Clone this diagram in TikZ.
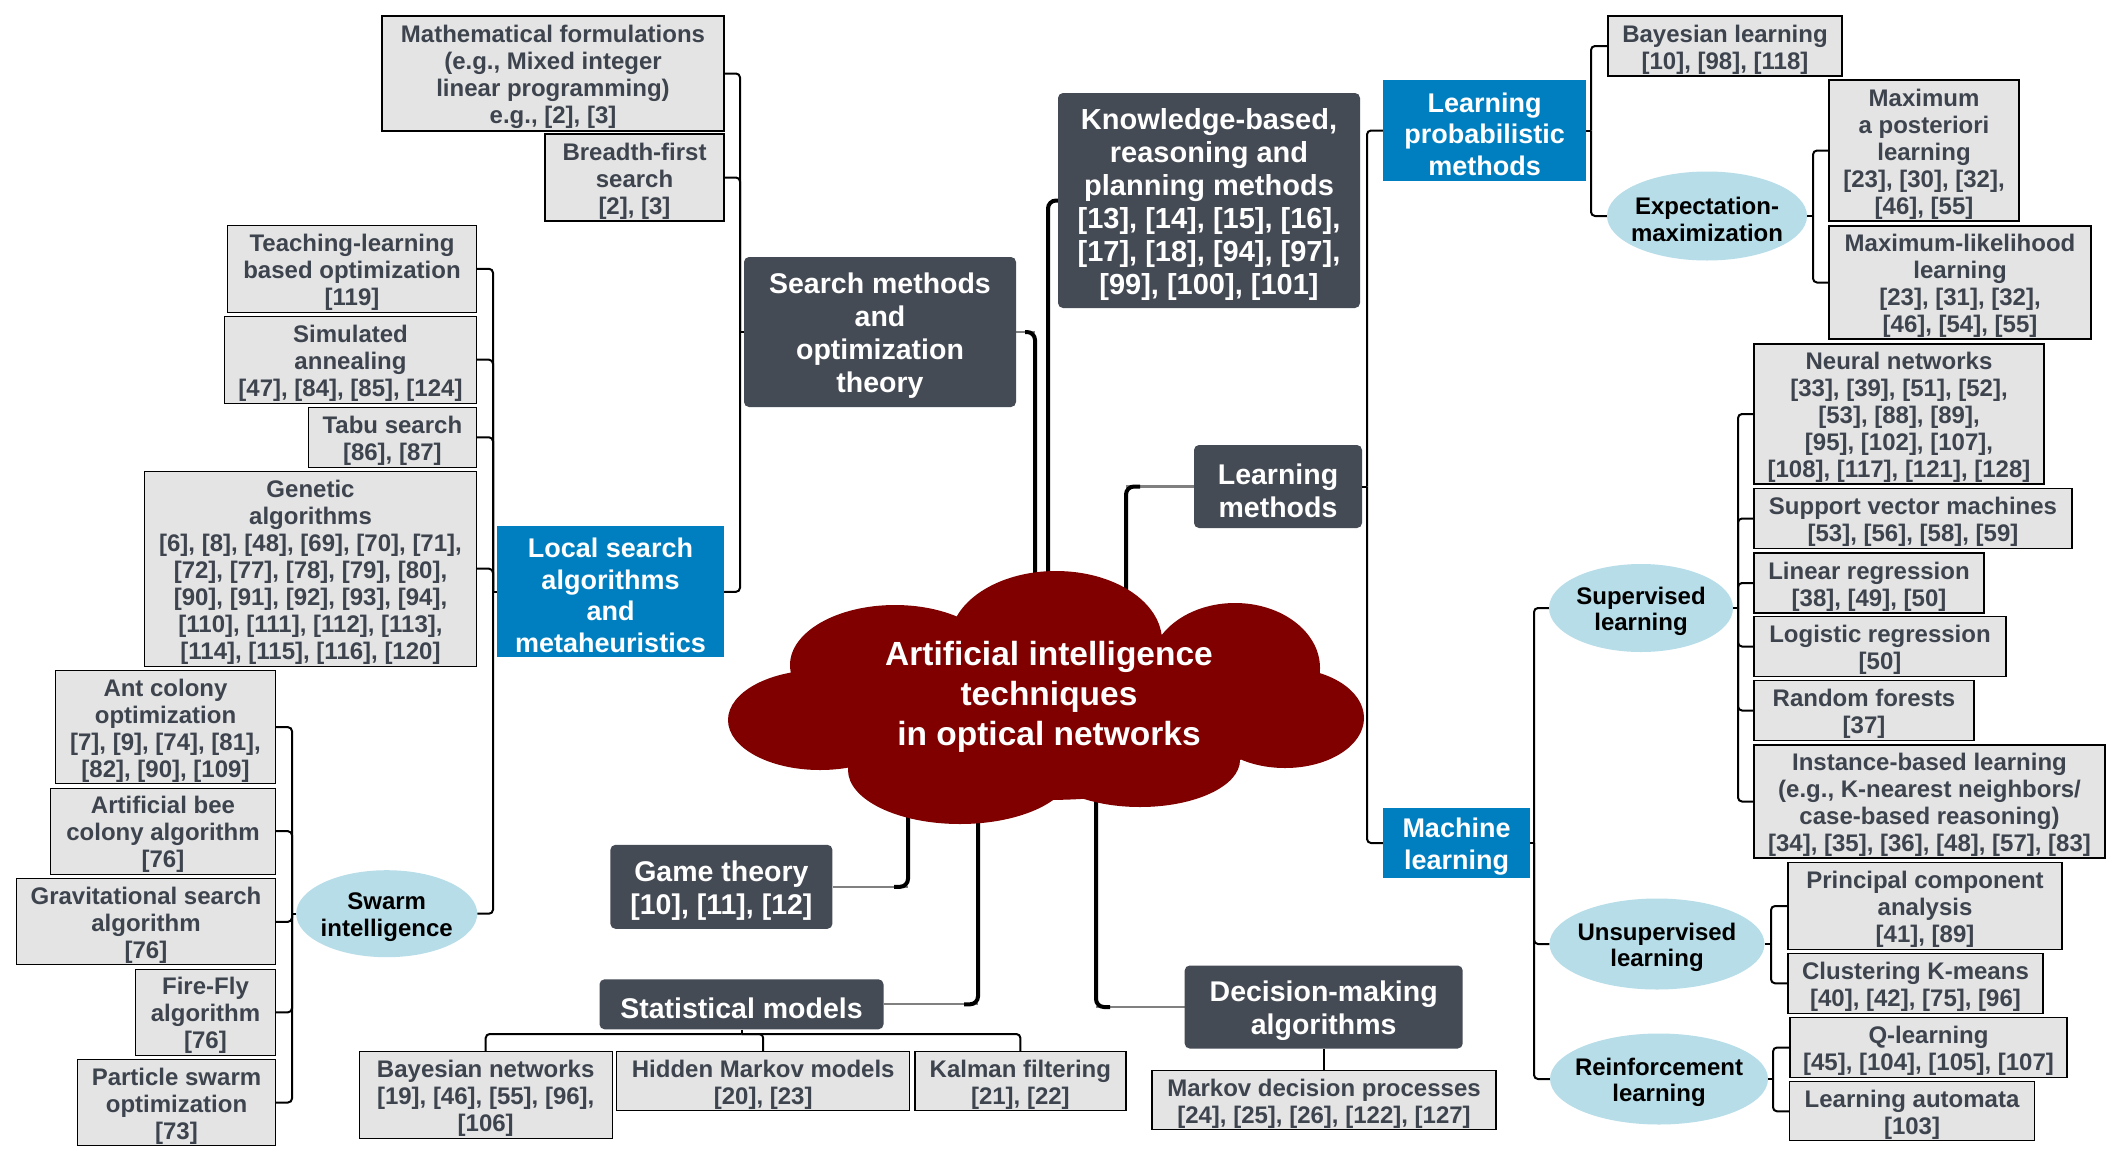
\documentclass[tikz,border=0pt]{standalone}
\usepackage{fontspec}
\setmainfont{Liberation Sans}
\usetikzlibrary{shapes.geometric,backgrounds,calc}
\definecolor{darkbox}{RGB}{69,75,84}
\definecolor{bluebox}{RGB}{0,127,192}
\definecolor{grayfill}{RGB}{228,228,228}
\definecolor{graytext}{RGB}{62,68,78}
\definecolor{ellfill}{RGB}{183,221,232}
\definecolor{cloudred}{RGB}{128,0,0}
\definecolor{linkgray}{RGB}{128,128,128}
\newcommand{\tbranch}[3]{%
  \draw[tl] (#1) -- (#1 -| #2);
  \foreach \c in {#3} {\draw[tl] (#1 -| #2) |- (\c);}%
}
\newcommand{\nl}{\\{}}
\newcommand{\st}{\rule{0pt}{1em}}
\begin{document}
\begin{tikzpicture}[x=1pt,y=-1pt,
 gb/.style={draw=black, line width=1.3pt, fill=grayfill, text=graytext, inner sep=0pt, align=center, font=\fontsize{24}{27}\selectfont\bfseries},
 db/.style={fill=darkbox, rounded corners=5pt, text=white, inner sep=0pt, align=center, font=\fontsize{28.5}{33}\selectfont\bfseries},
 bb/.style={fill=bluebox, text=white, inner sep=0pt, align=center, font=\fontsize{27}{31.5}\selectfont\bfseries},
 el/.style={ellipse, fill=ellfill, text=black, inner xsep=-25pt, inner ysep=0pt, align=center, font=\fontsize{24}{26.7}\selectfont\bfseries},
 cloudtxt/.style={text=white, align=center, inner sep=0pt, font=\fontsize{33.5}{40}\selectfont\bfseries},
 tl/.style={draw=black, line width=2pt, rounded corners=4pt},
 thk/.style={draw=black, line width=4pt, rounded corners=8pt},
 glink/.style={draw=linkgray, line width=2.2pt},
]
\begin{pgfonlayer}{background}
\fill[white] (0,0) rectangle (2122,1165);
\end{pgfonlayer}
\useasboundingbox (0,0) rectangle (2122,1165);

% cloud
\fill[cloudred] (820,720) ellipse[x radius=92pt, y radius=50pt]
 (895,665) ellipse[x radius=105pt, y radius=60pt]
 (1056,641) ellipse[x radius=106pt, y radius=70pt]
 (1235,668) ellipse[x radius=85pt, y radius=65pt]
 (1285,718) ellipse[x radius=79pt, y radius=50pt]
 (1140,760) ellipse[x radius=100pt, y radius=47pt]
 (960,770) ellipse[x radius=112pt, y radius=54pt]
 (1045,715) ellipse[x radius=230pt, y radius=85pt];
\node[cloudtxt] (ai) at (1049,692) {\st Artificial intelligence\nl techniques\nl in optical networks};

% search branch
\node[gb, minimum width=342pt, minimum height=115pt] (math) at (553,73.5) {\st Mathematical formulations\nl (e.g., Mixed integer\nl linear programming)\nl e.g., [2], [3]};
\node[gb, minimum width=179pt, minimum height=87pt] (bfs) at (634.5,177.5) {\st Breadth-first\nl search\nl [2], [3]};
\node[db, minimum width=272pt, minimum height=150pt] (search) at (880,332) {\st Search methods\nl and\nl optimization\nl theory};
\node[bb, minimum width=227pt, minimum height=131pt] (local) at (610.5,591.8) {\st Local search\nl algorithms\nl and\nl metaheuristics};
\node[gb, minimum width=249pt, minimum height=87pt] (tlbo) at (352,268.8) {\st Teaching-learning\nl based optimization\nl [119]};
\node[gb, minimum width=252pt, minimum height=87pt] (sa) at (350.5,359.7) {\st Simulated\nl annealing\nl [47], [84], [85], [124]};
\node[gb, minimum width=168pt, minimum height=60pt] (tabu) at (392.4,437.3) {\st Tabu search\nl [86], [87]};
\node[gb, minimum width=332pt, minimum height=195pt] (ga) at (310.5,568.7) {\st Genetic\nl algorithms\nl [6], [8], [48], [69], [70], [71],\nl [72], [77], [78], [79], [80],\nl [90], [91], [92], [93], [94],\nl [110], [111], [112], [113],\nl [114], [115], [116], [120]};
\node[el, minimum width=181pt, minimum height=87pt] (swarm) at (386.7,913.7) {\st Swarm\nl intelligence};
\node[gb, minimum width=220pt, minimum height=113pt] (aco) at (165.5,727.2) {\st Ant colony\nl optimization\nl [7], [9], [74], [81],\nl [82], [90], [109]};
\node[gb, minimum width=225pt, minimum height=86pt] (abc) at (163,831.2) {\st Artificial bee\nl colony algorithm\nl [76]};
\node[gb, minimum width=259pt, minimum height=86pt] (gsa) at (146,921.8) {\st Gravitational search\nl algorithm\nl [76]};
\node[gb, minimum width=140pt, minimum height=86pt] (ffa) at (205.5,1012.3) {\st Fire-Fly\nl algorithm\nl [76]};
\node[gb, minimum width=198pt, minimum height=86pt] (pso) at (176.5,1102.5) {\st Particle swarm\nl optimization\nl [73]};

% bottom
\node[db, minimum width=222pt, minimum height=84pt] (game) at (721.4,886.8) {\st Game theory\nl [10], [11], [12]};
\node[db, minimum width=284pt, minimum height=50pt] (stat) at (741.5,1004.3) {\st Statistical models};
\node[gb, minimum width=253pt, minimum height=87pt] (bn) at (485.7,1095) {\st Bayesian networks\nl [19], [46], [55], [96],\nl [106]};
\node[gb, minimum width=293pt, minimum height=59pt] (hmm) at (763.2,1081.3) {\st Hidden Markov models\nl [20], [23]};
\node[gb, minimum width=211pt, minimum height=59pt] (kf) at (1020.4,1081.3) {\st Kalman filtering\nl [21], [22]};
\node[db, minimum width=278pt, minimum height=83pt] (dm) at (1323.7,1007) {\st Decision-making\nl algorithms};
\node[gb, minimum width=344pt, minimum height=59pt] (mdp) at (1324,1100.3) {\st Markov decision processes\nl [24], [25], [26], [122], [127]};

% knowledge & learning
\node[db, minimum width=302pt, minimum height=215pt, font=\fontsize{29}{33}\selectfont\bfseries] (know) at (1209,200.5) {\st Knowledge-based,\nl reasoning and\nl planning methods\nl [13], [14], [15], [16],\nl [17], [18], [94], [97],\nl [99], [100], [101]};
\node[db, minimum width=168pt, minimum height=83pt] (lm) at (1278,486.5) {\st Learning\nl methods};
\node[bb, minimum width=203pt, minimum height=101pt] (lp) at (1484.5,130.5) {\st Learning\nl probabilistic\nl methods};
\node[gb, minimum width=234pt, minimum height=60pt] (bayl) at (1725,46) {\st Bayesian learning\nl [10], [98], [118]};
\node[el, minimum width=200pt, minimum height=89pt] (em) at (1707,216) {\st Expectation-\nl maximization};
\node[gb, minimum width=190pt, minimum height=141pt] (map) at (1924,150.5) {\st Maximum\nl a posteriori\nl learning\nl [23], [30], [32],\nl [46], [55]};
\node[gb, minimum width=262pt, minimum height=113pt] (mll) at (1960,282.5) {\st Maximum-likelihood\nl learning\nl [23], [31], [32],\nl [46], [54], [55]};
\node[bb, minimum width=147pt, minimum height=70pt] (ml) at (1456.5,843) {\st Machine\nl learning};
\node[el, minimum width=184pt, minimum height=88pt] (sup) at (1641,608) {\st Supervised\nl learning};
\node[gb, minimum width=290pt, minimum height=140pt] (nn) at (1899,414) {\st Neural networks\nl [33], [39], [51], [52],\nl [53], [88], [89],\nl [95], [102], [107],\nl [108], [117], [121], [128]};
\node[gb, minimum width=318pt, minimum height=60pt] (svm) at (1913,518.5) {\st Support vector machines\nl [53], [56], [58], [59]};
\node[gb, minimum width=230pt, minimum height=60pt] (linreg) at (1869,583) {\st Linear regression\nl [38], [49], [50]};
\node[gb, minimum width=252pt, minimum height=60pt] (logreg) at (1880,646.5) {\st Logistic regression\nl [50]};
\node[gb, minimum width=220pt, minimum height=60pt] (rf) at (1864,710.5) {\st Random forests\nl [37]};
\node[gb, minimum width=351pt, minimum height=113pt] (ibl) at (1929.5,801.5) {\st Instance-based learning\nl (e.g., K-nearest neighbors/\nl case-based reasoning)\nl [34], [35], [36], [48], [57], [83]};
\node[el, minimum width=215pt, minimum height=91pt] (unsup) at (1657,944) {\st Unsupervised\nl learning};
\node[gb, minimum width=274pt, minimum height=87pt] (pca) at (1925,906) {\st Principal component\nl analysis\nl [41], [89]};
\node[gb, minimum width=255pt, minimum height=60pt] (km) at (1915.5,983.3) {\st Clustering K-means\nl [40], [42], [75], [96]};
\node[el, minimum width=218pt, minimum height=91pt] (reinf) at (1659,1079) {\st Reinforcement\nl learning};
\node[gb, minimum width=277pt, minimum height=60pt] (ql) at (1928.5,1047.5) {\st Q-learning\nl [45], [104], [105], [107]};
\node[gb, minimum width=245pt, minimum height=59pt] (la) at (1912,1111.3) {\st Learning automata\nl [103]};

% trunk coordinates
\coordinate (tS) at (740,0);
\coordinate (tL) at (493,0);
\coordinate (tW) at (292,0);
\coordinate (tM) at (1367,0);
\coordinate (tP) at (1591,0);
\coordinate (tE) at (1813,0);
\coordinate (tML) at (1534,0);
\coordinate (tSu) at (1738,0);
\coordinate (tU) at (1771,0);
\coordinate (tR) at (1773,0);
\coordinate (bus) at (0,1034);
% points under the cloud
\coordinate (kS) at (1035,690);
\coordinate (kK) at (1048,690);
\coordinate (kL) at (1126,690);
\coordinate (kG) at (908,740);
\coordinate (kSt) at (978,740);
\coordinate (kD) at (1096,740);

% thick links from the cloud (under it)
\begin{pgfonlayer}{background}
\draw[glink] (search.east) -- (search.east -| kS);
\draw[thk] ($(search.east -| kS)+(-10,0)$) -- (search.east -| kS) -- (kS);
\draw[thk] (know.west) -| (kK);
\draw[glink] (lm.west) -- (lm.west -| kL);
\draw[thk] ($(lm.west -| kL)+(14,0)$) -- (lm.west -| kL) -- (kL);
\draw[glink] (game.east) -- (game.east -| kG);
\draw[thk] ($(game.east -| kG)+(-14,0)$) -- (game.east -| kG) -- (kG);
\draw[glink] (stat.east) -- (stat.east -| kSt);
\draw[thk] ($(stat.east -| kSt)+(-14,0)$) -- (stat.east -| kSt) -- (kSt);
\draw[glink] (dm.west) -- (dm.west -| kD);
\draw[thk] ($(dm.west -| kD)+(14,0)$) -- (dm.west -| kD) -- (kD);
\end{pgfonlayer}

% tree links
\tbranch{search.west}{tS}{math.east,bfs.east,local.east}
\tbranch{local.west}{tL}{tlbo.east,sa.east,tabu.east,ga.east,swarm.east}
\tbranch{swarm.west}{tW}{aco.east,abc.east,gsa.east,ffa.east,pso.east}
\tbranch{lm.east}{tM}{lp.west,ml.west}
\tbranch{lp.east}{tP}{bayl.west,em.west}
\tbranch{em.east}{tE}{map.west,mll.west}
\tbranch{ml.east}{tML}{sup.west,unsup.west,reinf.west}
\tbranch{sup.east}{tSu}{nn.west,svm.west,linreg.west,logreg.west,rf.west,ibl.west}
\tbranch{unsup.east}{tU}{pca.west,km.west}
\tbranch{reinf.east}{tR}{ql.west,la.west}
\draw[tl] (stat.south) -- (stat.south |- bus);
\draw[tl] (stat.south |- bus) -| (bn.north);
\draw[tl] (stat.south |- bus) -| (hmm.north);
\draw[tl] (stat.south |- bus) -| (kf.north);
\draw[tl] (dm.south) -- (dm.south |- mdp.north);
\end{tikzpicture}
\end{document}
